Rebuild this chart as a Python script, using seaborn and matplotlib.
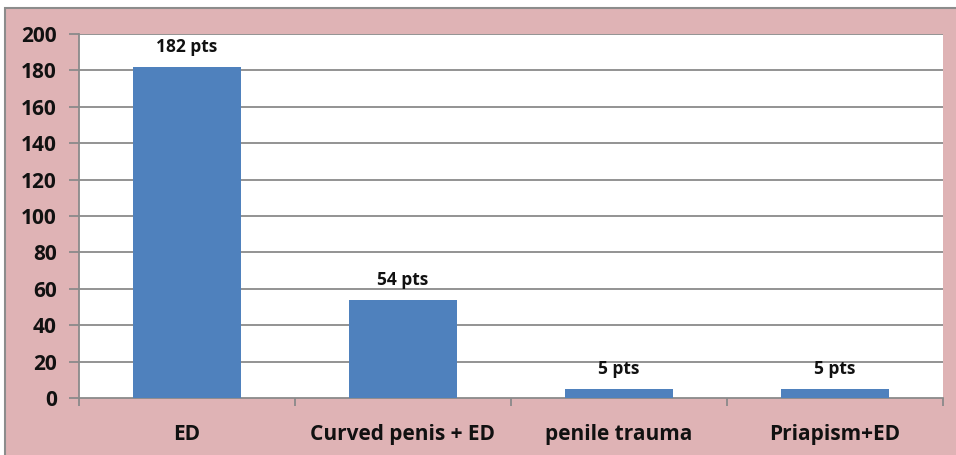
import pandas as pd
import matplotlib.pyplot as plt
import seaborn as sns
from matplotlib.patches import Rectangle

categories = ["ED", "Curved penis + ED", "penile trauma", "Priapism+ED"]
patients = [182, 54, 5, 5]
bar_labels = ["182 pts", "54 pts", "5 pts", "5 pts"]
yticks = list(range(0, 201, 20))

df = pd.DataFrame({"group": categories, "n": patients})

sns.set_theme(style="white")
plt.rcParams["font.family"] = ["Open Sans", "DejaVu Sans"]

fig = plt.figure(figsize=(9.56, 4.55), dpi=100)
fig.patch.set_facecolor("white")
# pink backdrop of the chart area
fig.patches.append(Rectangle((5 / 956, -0.05), 1.0, (455 - 8) / 455 + 0.05,
                             transform=fig.transFigure, facecolor="#dfb3b5",
                             edgecolor="#8c8c8c", linewidth=1.5, zorder=-10))

ax = fig.add_axes([79 / 956, 1 - 398 / 455, 864 / 956, 364 / 455])
ax.set_facecolor("white")

sns.barplot(data=df, x="group", y="n", color="#4f81bd", saturation=1,
            width=0.5, linewidth=0, ax=ax, zorder=3)

ax.set_ylim(0, 200)
ax.set_xlim(-0.5, 3.5)
ax.set_yticks(yticks)
for y in yticks[1:]:
    ax.axhline(y, color="#8a8a8a", linewidth=1.3, zorder=1)

for i, (v, lab) in enumerate(zip(patients, bar_labels)):
    ax.text(i, v + 6, lab, ha="center", va="bottom", fontsize=12.5,
            fontweight="bold", color="#111111")

ax.set_xlabel("")
ax.set_ylabel("")
for s in ["top", "right"]:
    ax.spines[s].set_visible(False)
for s in ["left", "bottom"]:
    ax.spines[s].set_color("#8a8a8a")
    ax.spines[s].set_linewidth(1.3)

ax.set_xticks([-0.5, 0.5, 1.5, 2.5, 3.5], minor=True)
ax.tick_params(axis="x", which="major", length=0, pad=19, labelsize=15)
ax.tick_params(axis="x", which="minor", length=6, color="#8a8a8a", width=1.3, bottom=True)
ax.tick_params(axis="y", length=7, color="#8a8a8a", width=1.3, pad=9, labelsize=15, left=True)
for t in ax.get_xticklabels() + ax.get_yticklabels():
    t.set_fontweight("bold")
    t.set_color("#111111")

fig.savefig("out.png", dpi=100, facecolor=fig.get_facecolor())
